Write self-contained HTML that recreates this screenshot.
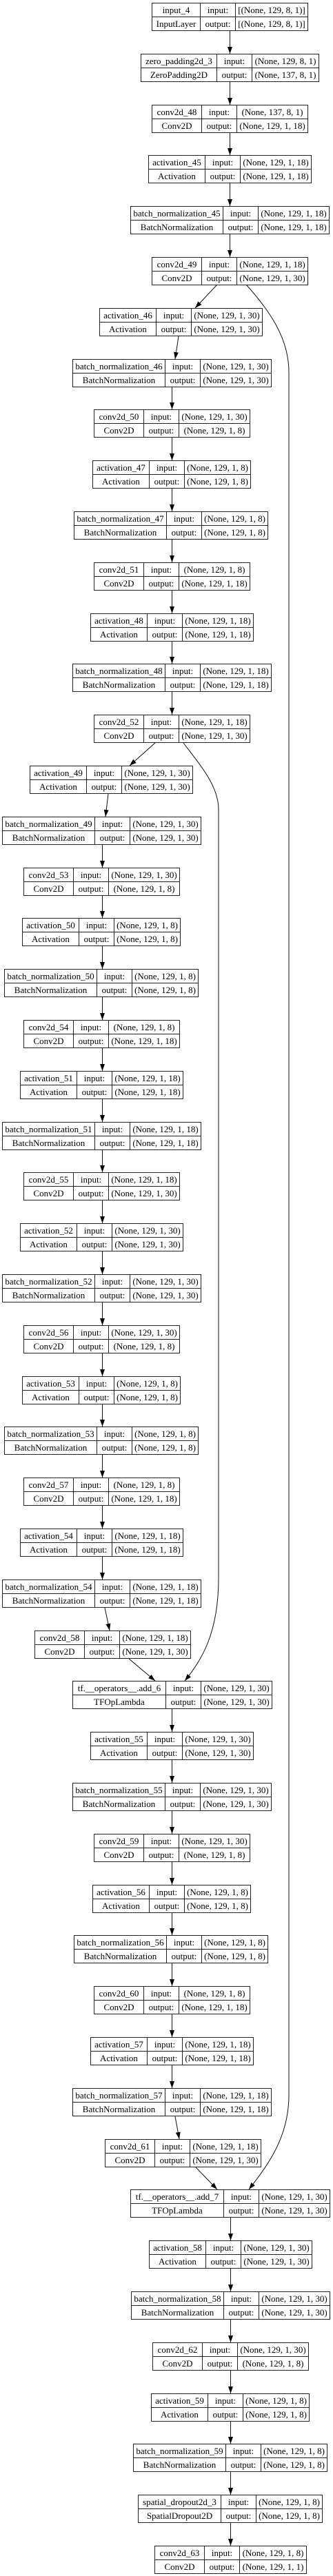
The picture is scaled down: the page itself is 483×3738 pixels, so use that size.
<!DOCTYPE html>
<html><head><meta charset="utf-8"><style>
html,body{margin:0;padding:0;background:#fff;}
body{position:relative;width:483px;height:3738px;overflow:hidden;}
table{position:absolute;border-collapse:collapse;table-layout:fixed;font-family:"Liberation Serif",serif;font-size:13px;color:#000;background:#fff;}
td{border:1px solid #222;height:19px;line-height:19px;padding:0;text-align:center;white-space:nowrap;overflow:hidden;}
td.io{width:50px;}
svg{position:absolute;left:0;top:0;}
</style></head><body>
<svg width="483" height="3738" viewBox="0 0 483 3738">
<defs><marker id="a" markerUnits="userSpaceOnUse" markerWidth="10" markerHeight="8" refX="10" refY="4" orient="auto"><path d="M0,0.5 L10,4 L0,7.5 z" fill="#000"/></marker></defs>
<g stroke="#111" stroke-width="1" fill="none" marker-end="url(#a)">
<path d="M333.5,45 V78"/><path d="M333.5,119 V152"/><path d="M333.5,193 V225"/><path d="M333.5,266 V299"/><path d="M333.5,340 V373"/>
<path d="M314,414 L283,447"/><path d="M259,488 L254,521"/>
<path d="M249.5,562 V594"/><path d="M249.5,635 V668"/><path d="M249.5,709 V742"/><path d="M249.5,783 V816"/><path d="M249.5,857 V890"/><path d="M249.5,931 V963"/><path d="M249.5,1004 V1037"/>
<path d="M225,1078 L188,1111"/><path d="M157,1152 L153,1185"/>
<path d="M148.5,1226 V1259"/><path d="M148.5,1300 V1332"/><path d="M148.5,1373 V1406"/><path d="M148.5,1447 V1480"/><path d="M148.5,1521 V1554"/><path d="M148.5,1595 V1628"/><path d="M148.5,1669 V1701"/><path d="M148.5,1742 V1775"/><path d="M148.5,1816 V1849"/><path d="M148.5,1890 V1923"/><path d="M148.5,1964 V1997"/><path d="M148.5,2038 V2070"/><path d="M148.5,2111 V2144"/><path d="M148.5,2185 V2218"/><path d="M148.5,2259 V2292"/>
<path d="M152,2333 L159,2366"/><path d="M187,2407 L225,2439"/>
<path d="M249.5,2480 V2513"/><path d="M249.5,2554 V2587"/><path d="M249.5,2628 V2661"/><path d="M249.5,2702 V2735"/><path d="M249.5,2776 V2808"/><path d="M249.5,2849 V2882"/><path d="M249.5,2923 V2956"/><path d="M249.5,2997 V3030"/>
<path d="M254,3071 L260,3104"/><path d="M284,3145 L315,3177"/>
<path d="M334.5,3218 V3251"/><path d="M334.5,3292 V3325"/><path d="M334.5,3366 V3399"/><path d="M334.5,3440 V3473"/><path d="M334.5,3514 V3546"/><path d="M334.5,3587 V3620"/><path d="M334.5,3661 V3694"/>
<path d="M358,414 C390,450 419,490 419,540 L419,3040 C419,3100 390,3140 361,3177"/>
<path d="M266,1078 C290,1110 317,1140 317,1175 L317,2290 C317,2370 292,2410 268,2439"/>
</g></svg>

<table style="left:220px;top:4px;width:227px"><tr><td style="width:69px">input_4</td><td class="io">input:</td><td>[(None, 129, 8, 1)]</td></tr><tr><td>InputLayer</td><td>output:</td><td>[(None, 129, 8, 1)]</td></tr></table>
<table style="left:204px;top:78px;width:259px"><tr><td style="width:109px">zero_padding2d_3</td><td class="io">input:</td><td>(None, 129, 8, 1)</td></tr><tr><td>ZeroPadding2D</td><td>output:</td><td>(None, 137, 8, 1)</td></tr></table>
<table style="left:220px;top:152px;width:227px"><tr><td style="width:71px">conv2d_48</td><td class="io">input:</td><td>(None, 137, 8, 1)</td></tr><tr><td>Conv2D</td><td>output:</td><td>(None, 129, 1, 18)</td></tr></table>
<table style="left:215px;top:225px;width:237px"><tr><td style="width:81px">activation_45</td><td class="io">input:</td><td>(None, 129, 1, 18)</td></tr><tr><td>Activation</td><td>output:</td><td>(None, 129, 1, 18)</td></tr></table>
<table style="left:189px;top:299px;width:289px"><tr><td style="width:133px">batch_normalization_45</td><td class="io">input:</td><td>(None, 129, 1, 18)</td></tr><tr><td>BatchNormalization</td><td>output:</td><td>(None, 129, 1, 18)</td></tr></table>
<table style="left:220px;top:373px;width:227px"><tr><td style="width:71px">conv2d_49</td><td class="io">input:</td><td>(None, 129, 1, 18)</td></tr><tr><td>Conv2D</td><td>output:</td><td>(None, 129, 1, 30)</td></tr></table>
<table style="left:144px;top:447px;width:237px"><tr><td style="width:81px">activation_46</td><td class="io">input:</td><td>(None, 129, 1, 30)</td></tr><tr><td>Activation</td><td>output:</td><td>(None, 129, 1, 30)</td></tr></table>
<table style="left:105px;top:521px;width:289px"><tr><td style="width:133px">batch_normalization_46</td><td class="io">input:</td><td>(None, 129, 1, 30)</td></tr><tr><td>BatchNormalization</td><td>output:</td><td>(None, 129, 1, 30)</td></tr></table>
<table style="left:136px;top:594px;width:227px"><tr><td style="width:71px">conv2d_50</td><td class="io">input:</td><td>(None, 129, 1, 30)</td></tr><tr><td>Conv2D</td><td>output:</td><td>(None, 129, 1, 8)</td></tr></table>
<table style="left:134px;top:668px;width:230px"><tr><td style="width:81px">activation_47</td><td class="io">input:</td><td>(None, 129, 1, 8)</td></tr><tr><td>Activation</td><td>output:</td><td>(None, 129, 1, 8)</td></tr></table>
<table style="left:107px;top:742px;width:282px"><tr><td style="width:133px">batch_normalization_47</td><td class="io">input:</td><td>(None, 129, 1, 8)</td></tr><tr><td>BatchNormalization</td><td>output:</td><td>(None, 129, 1, 8)</td></tr></table>
<table style="left:136px;top:816px;width:227px"><tr><td style="width:71px">conv2d_51</td><td class="io">input:</td><td>(None, 129, 1, 8)</td></tr><tr><td>Conv2D</td><td>output:</td><td>(None, 129, 1, 18)</td></tr></table>
<table style="left:131px;top:890px;width:237px"><tr><td style="width:81px">activation_48</td><td class="io">input:</td><td>(None, 129, 1, 18)</td></tr><tr><td>Activation</td><td>output:</td><td>(None, 129, 1, 18)</td></tr></table>
<table style="left:105px;top:963px;width:289px"><tr><td style="width:133px">batch_normalization_48</td><td class="io">input:</td><td>(None, 129, 1, 18)</td></tr><tr><td>BatchNormalization</td><td>output:</td><td>(None, 129, 1, 18)</td></tr></table>
<table style="left:136px;top:1037px;width:227px"><tr><td style="width:71px">conv2d_52</td><td class="io">input:</td><td>(None, 129, 1, 18)</td></tr><tr><td>Conv2D</td><td>output:</td><td>(None, 129, 1, 30)</td></tr></table>
<table style="left:43px;top:1111px;width:237px"><tr><td style="width:81px">activation_49</td><td class="io">input:</td><td>(None, 129, 1, 30)</td></tr><tr><td>Activation</td><td>output:</td><td>(None, 129, 1, 30)</td></tr></table>
<table style="left:3px;top:1185px;width:289px"><tr><td style="width:133px">batch_normalization_49</td><td class="io">input:</td><td>(None, 129, 1, 30)</td></tr><tr><td>BatchNormalization</td><td>output:</td><td>(None, 129, 1, 30)</td></tr></table>
<table style="left:34px;top:1259px;width:227px"><tr><td style="width:71px">conv2d_53</td><td class="io">input:</td><td>(None, 129, 1, 30)</td></tr><tr><td>Conv2D</td><td>output:</td><td>(None, 129, 1, 8)</td></tr></table>
<table style="left:32px;top:1332px;width:230px"><tr><td style="width:81px">activation_50</td><td class="io">input:</td><td>(None, 129, 1, 8)</td></tr><tr><td>Activation</td><td>output:</td><td>(None, 129, 1, 8)</td></tr></table>
<table style="left:6px;top:1406px;width:282px"><tr><td style="width:133px">batch_normalization_50</td><td class="io">input:</td><td>(None, 129, 1, 8)</td></tr><tr><td>BatchNormalization</td><td>output:</td><td>(None, 129, 1, 8)</td></tr></table>
<table style="left:34px;top:1480px;width:227px"><tr><td style="width:71px">conv2d_54</td><td class="io">input:</td><td>(None, 129, 1, 8)</td></tr><tr><td>Conv2D</td><td>output:</td><td>(None, 129, 1, 18)</td></tr></table>
<table style="left:29px;top:1554px;width:237px"><tr><td style="width:81px">activation_51</td><td class="io">input:</td><td>(None, 129, 1, 18)</td></tr><tr><td>Activation</td><td>output:</td><td>(None, 129, 1, 18)</td></tr></table>
<table style="left:3px;top:1628px;width:289px"><tr><td style="width:133px">batch_normalization_51</td><td class="io">input:</td><td>(None, 129, 1, 18)</td></tr><tr><td>BatchNormalization</td><td>output:</td><td>(None, 129, 1, 18)</td></tr></table>
<table style="left:34px;top:1701px;width:227px"><tr><td style="width:71px">conv2d_55</td><td class="io">input:</td><td>(None, 129, 1, 18)</td></tr><tr><td>Conv2D</td><td>output:</td><td>(None, 129, 1, 30)</td></tr></table>
<table style="left:29px;top:1775px;width:237px"><tr><td style="width:81px">activation_52</td><td class="io">input:</td><td>(None, 129, 1, 30)</td></tr><tr><td>Activation</td><td>output:</td><td>(None, 129, 1, 30)</td></tr></table>
<table style="left:3px;top:1849px;width:289px"><tr><td style="width:133px">batch_normalization_52</td><td class="io">input:</td><td>(None, 129, 1, 30)</td></tr><tr><td>BatchNormalization</td><td>output:</td><td>(None, 129, 1, 30)</td></tr></table>
<table style="left:34px;top:1923px;width:227px"><tr><td style="width:71px">conv2d_56</td><td class="io">input:</td><td>(None, 129, 1, 30)</td></tr><tr><td>Conv2D</td><td>output:</td><td>(None, 129, 1, 8)</td></tr></table>
<table style="left:32px;top:1997px;width:230px"><tr><td style="width:81px">activation_53</td><td class="io">input:</td><td>(None, 129, 1, 8)</td></tr><tr><td>Activation</td><td>output:</td><td>(None, 129, 1, 8)</td></tr></table>
<table style="left:6px;top:2070px;width:282px"><tr><td style="width:133px">batch_normalization_53</td><td class="io">input:</td><td>(None, 129, 1, 8)</td></tr><tr><td>BatchNormalization</td><td>output:</td><td>(None, 129, 1, 8)</td></tr></table>
<table style="left:34px;top:2144px;width:227px"><tr><td style="width:71px">conv2d_57</td><td class="io">input:</td><td>(None, 129, 1, 8)</td></tr><tr><td>Conv2D</td><td>output:</td><td>(None, 129, 1, 18)</td></tr></table>
<table style="left:29px;top:2218px;width:237px"><tr><td style="width:81px">activation_54</td><td class="io">input:</td><td>(None, 129, 1, 18)</td></tr><tr><td>Activation</td><td>output:</td><td>(None, 129, 1, 18)</td></tr></table>
<table style="left:3px;top:2292px;width:289px"><tr><td style="width:133px">batch_normalization_54</td><td class="io">input:</td><td>(None, 129, 1, 18)</td></tr><tr><td>BatchNormalization</td><td>output:</td><td>(None, 129, 1, 18)</td></tr></table>
<table style="left:50px;top:2366px;width:227px"><tr><td style="width:71px">conv2d_58</td><td class="io">input:</td><td>(None, 129, 1, 18)</td></tr><tr><td>Conv2D</td><td>output:</td><td>(None, 129, 1, 30)</td></tr></table>
<table style="left:105px;top:2439px;width:290px"><tr><td style="width:134px">tf.__operators__.add_6</td><td class="io">input:</td><td>(None, 129, 1, 30)</td></tr><tr><td>TFOpLambda</td><td>output:</td><td>(None, 129, 1, 30)</td></tr></table>
<table style="left:131px;top:2513px;width:237px"><tr><td style="width:81px">activation_55</td><td class="io">input:</td><td>(None, 129, 1, 30)</td></tr><tr><td>Activation</td><td>output:</td><td>(None, 129, 1, 30)</td></tr></table>
<table style="left:105px;top:2587px;width:289px"><tr><td style="width:133px">batch_normalization_55</td><td class="io">input:</td><td>(None, 129, 1, 30)</td></tr><tr><td>BatchNormalization</td><td>output:</td><td>(None, 129, 1, 30)</td></tr></table>
<table style="left:136px;top:2661px;width:227px"><tr><td style="width:71px">conv2d_59</td><td class="io">input:</td><td>(None, 129, 1, 30)</td></tr><tr><td>Conv2D</td><td>output:</td><td>(None, 129, 1, 8)</td></tr></table>
<table style="left:134px;top:2735px;width:230px"><tr><td style="width:81px">activation_56</td><td class="io">input:</td><td>(None, 129, 1, 8)</td></tr><tr><td>Activation</td><td>output:</td><td>(None, 129, 1, 8)</td></tr></table>
<table style="left:107px;top:2808px;width:282px"><tr><td style="width:133px">batch_normalization_56</td><td class="io">input:</td><td>(None, 129, 1, 8)</td></tr><tr><td>BatchNormalization</td><td>output:</td><td>(None, 129, 1, 8)</td></tr></table>
<table style="left:136px;top:2882px;width:227px"><tr><td style="width:71px">conv2d_60</td><td class="io">input:</td><td>(None, 129, 1, 8)</td></tr><tr><td>Conv2D</td><td>output:</td><td>(None, 129, 1, 18)</td></tr></table>
<table style="left:131px;top:2956px;width:237px"><tr><td style="width:81px">activation_57</td><td class="io">input:</td><td>(None, 129, 1, 18)</td></tr><tr><td>Activation</td><td>output:</td><td>(None, 129, 1, 18)</td></tr></table>
<table style="left:105px;top:3030px;width:289px"><tr><td style="width:133px">batch_normalization_57</td><td class="io">input:</td><td>(None, 129, 1, 18)</td></tr><tr><td>BatchNormalization</td><td>output:</td><td>(None, 129, 1, 18)</td></tr></table>
<table style="left:152px;top:3104px;width:227px"><tr><td style="width:71px">conv2d_61</td><td class="io">input:</td><td>(None, 129, 1, 18)</td></tr><tr><td>Conv2D</td><td>output:</td><td>(None, 129, 1, 30)</td></tr></table>
<table style="left:189px;top:3177px;width:290px"><tr><td style="width:134px">tf.__operators__.add_7</td><td class="io">input:</td><td>(None, 129, 1, 30)</td></tr><tr><td>TFOpLambda</td><td>output:</td><td>(None, 129, 1, 30)</td></tr></table>
<table style="left:216px;top:3251px;width:237px"><tr><td style="width:81px">activation_58</td><td class="io">input:</td><td>(None, 129, 1, 30)</td></tr><tr><td>Activation</td><td>output:</td><td>(None, 129, 1, 30)</td></tr></table>
<table style="left:190px;top:3325px;width:289px"><tr><td style="width:133px">batch_normalization_58</td><td class="io">input:</td><td>(None, 129, 1, 30)</td></tr><tr><td>BatchNormalization</td><td>output:</td><td>(None, 129, 1, 30)</td></tr></table>
<table style="left:221px;top:3399px;width:227px"><tr><td style="width:71px">conv2d_62</td><td class="io">input:</td><td>(None, 129, 1, 30)</td></tr><tr><td>Conv2D</td><td>output:</td><td>(None, 129, 1, 8)</td></tr></table>
<table style="left:219px;top:3473px;width:230px"><tr><td style="width:81px">activation_59</td><td class="io">input:</td><td>(None, 129, 1, 8)</td></tr><tr><td>Activation</td><td>output:</td><td>(None, 129, 1, 8)</td></tr></table>
<table style="left:193px;top:3546px;width:282px"><tr><td style="width:133px">batch_normalization_59</td><td class="io">input:</td><td>(None, 129, 1, 8)</td></tr><tr><td>BatchNormalization</td><td>output:</td><td>(None, 129, 1, 8)</td></tr></table>
<table style="left:200px;top:3620px;width:268px"><tr><td style="width:119px">spatial_dropout2d_3</td><td class="io">input:</td><td>(None, 129, 1, 8)</td></tr><tr><td>SpatialDropout2D</td><td>output:</td><td>(None, 129, 1, 8)</td></tr></table>
<table style="left:224px;top:3694px;width:221px"><tr><td style="width:71px">conv2d_63</td><td class="io">input:</td><td>(None, 129, 1, 8)</td></tr><tr><td>Conv2D</td><td>output:</td><td>(None, 129, 1, 1)</td></tr></table>
</body></html>
